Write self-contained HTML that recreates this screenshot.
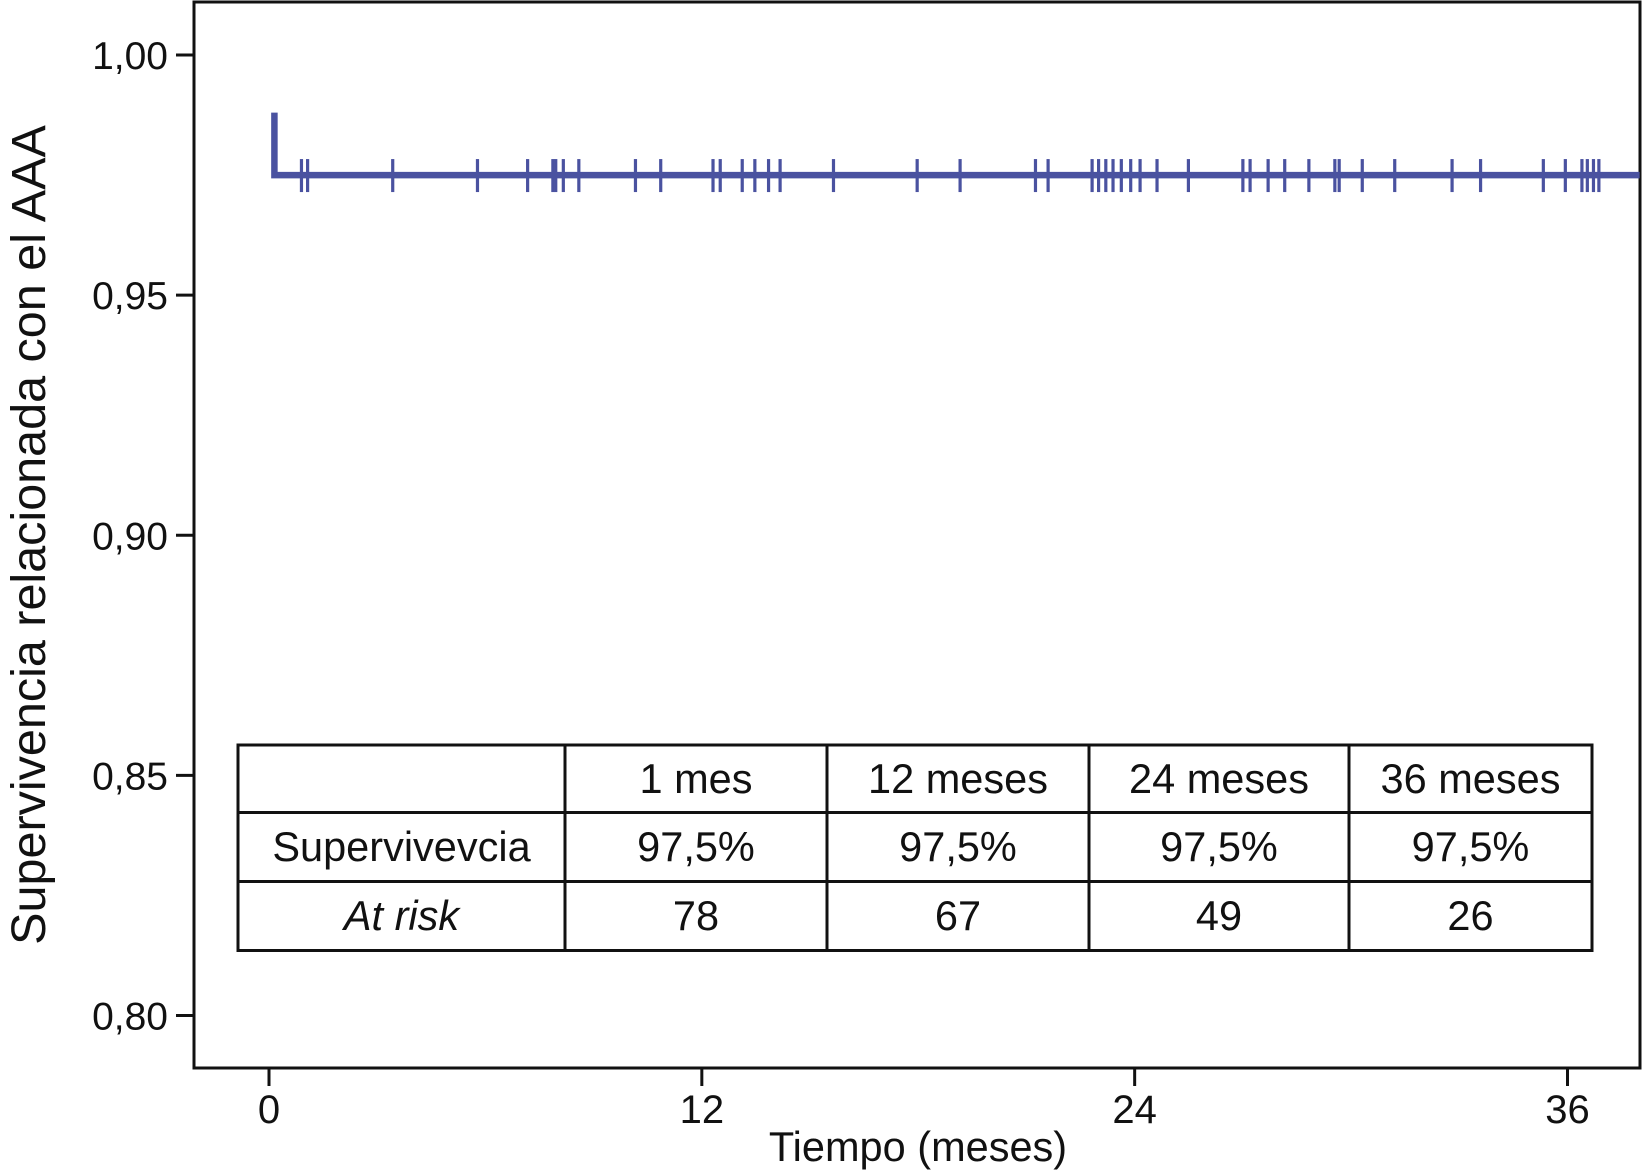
<!DOCTYPE html>
<html><head><meta charset="utf-8"><style>
html,body{margin:0;padding:0;background:#fff;}
svg{display:block;font-family:"Liberation Sans",Arial,sans-serif;}
</style></head><body>
<svg id="chart" width="1642" height="1170" viewBox="0 0 1642 1170">
<rect width="1642" height="1170" fill="#fff"/>
<g id="axes"></g>
<g id="series"></g>
<g id="table"></g>
</svg>
<script>
const yTicks=[1.00,0.95,0.90,0.85,0.80];
const yTickLabels=["1,00","0,95","0,90","0,85","0,80"];
const xTicks=[0,12,24,36];
const xTickLabels=["0","12","24","36"];
const stepTimes=[0.15,38];
const survival=[0.988,0.975];
const censorTimes=[0.90,1.07,3.43,5.78,7.17,7.87,7.95,8.16,8.59,10.16,10.86,12.31,12.51,13.12,13.47,13.85,14.17,15.65,17.97,19.16,21.25,21.60,22.82,23.0,23.2,23.4,23.63,23.89,24.15,24.62,25.49,27.0,27.2,27.7,28.16,28.83,29.55,29.67,30.31,31.21,32.8,33.59,35.33,35.94,36.40,36.55,36.72,36.87];
const colHeaders=["","1 mes","12 meses","24 meses","36 meses"];
const rowLabels=["Supervivevcia","At risk"];
const survRow=["97,5%","97,5%","97,5%","97,5%"];
const riskRow=["78","67","49","26"];

const NS="http://www.w3.org/2000/svg";
const X=m=>269+m*(1567.5-269)/36;
const Y=v=>55+(1-v)*(1015.5-55)/0.2;
function el(tag,attrs,parent,text){const e=document.createElementNS(NS,tag);for(const k in attrs)e.setAttribute(k,attrs[k]);if(text!==undefined)e.textContent=text;parent.appendChild(e);return e;}
const axes=document.getElementById('axes');
let f=el('path',{d:"M194,2 H1640 V1068 H194 Z",fill:"none",stroke:"#111","stroke-width":3},axes);


yTicks.forEach((v,i)=>{
 let t=el('line',{x1:176,x2:194,y1:Y(v),y2:Y(v),stroke:"#111","stroke-width":3},axes);
 
 
 let l=el('text',{x:168,y:Y(v)+14,"text-anchor":"end","font-size":39,fill:"#111"},axes,yTickLabels[i]);
 
 
});
xTicks.forEach((v,i)=>{
 let t=el('line',{x1:X(v),x2:X(v),y1:1068,y2:1086,stroke:"#111","stroke-width":3},axes);
 
 
 let l=el('text',{x:X(v),y:1123,"text-anchor":"middle","font-size":40,fill:"#111"},axes,xTickLabels[i]);
 
 
});
let xt=el('text',{x:918,y:1161,"text-anchor":"middle","font-size":41.5,fill:"#111"},axes,"Tiempo (meses)");


let yt=el('text',{x:0,y:0,transform:"translate(45,535) rotate(-90)","text-anchor":"middle","font-size":48.5,fill:"#111"},axes,"Supervivencia relacionada con el AAA");



const ser=document.getElementById('series');
const col="#4a52a0";
let d=`M${X(stepTimes[0])},${Y(survival[0])} V${Y(survival[1])} H${X(stepTimes[1])}`;
let p=el('path',{d:d,fill:"none",stroke:col,"stroke-width":6.5},ser);


censorTimes.forEach(m=>{
 let c=el('line',{x1:X(m),x2:X(m),y1:Y(survival[1])-16,y2:Y(survival[1])+17,stroke:col,"stroke-width":3.2},ser);
 
 
});

const tb=document.getElementById('table');
const cols=[238,565,827,1089,1349,1592];
const rows=[745,812.5,881.5,950.5];
let tr=el('rect',{x:238,y:745,width:1592-238,height:950.5-745,fill:"#fff",stroke:"#111","stroke-width":3},tb);


rows.slice(1,3).forEach(y=>{let l=el('line',{x1:238,x2:1592,y1:y,y2:y,stroke:"#111","stroke-width":3},tb);});
cols.slice(1,5).forEach(x=>{let l=el('line',{x1:x,x2:x,y1:745,y2:950.5,stroke:"#111","stroke-width":3},tb);});
const cx=i=>(cols[i]+cols[i+1])/2;
const cy=r=>(rows[r]+rows[r+1])/2+14;
const FS=41.5;
colHeaders.forEach((h,i)=>{if(!h)return;let t=el('text',{x:cx(i),y:cy(0),"text-anchor":"middle","font-size":FS,fill:"#111"},tb,h);});
let r1=el('text',{x:cx(0),y:cy(1),"text-anchor":"middle","font-size":FS,fill:"#111"},tb,rowLabels[0]);


let r2=el('text',{x:cx(0),y:cy(2),"text-anchor":"middle","font-size":FS,"font-style":"italic",fill:"#111"},tb,rowLabels[1]);


survRow.forEach((v,i)=>{let t=el('text',{x:cx(i+1),y:cy(1),"text-anchor":"middle","font-size":FS,fill:"#111"},tb,v);});
riskRow.forEach((v,i)=>{let t=el('text',{x:cx(i+1),y:cy(2),"text-anchor":"middle","font-size":FS,fill:"#111"},tb,v);});
</script>
</body></html>
